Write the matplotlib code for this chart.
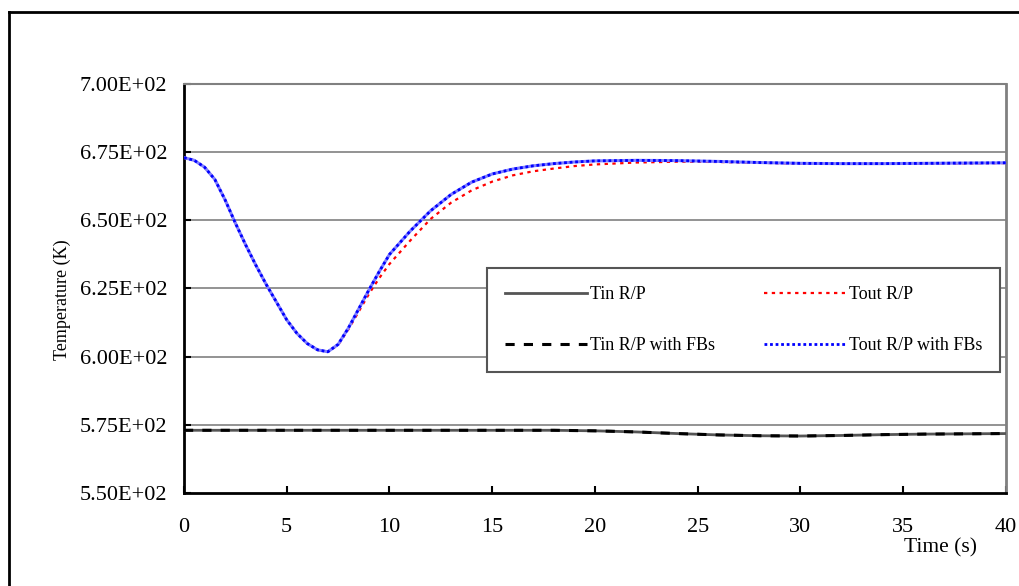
import matplotlib.pyplot as plt
from matplotlib.lines import Line2D

plt.rcParams['font.family'] = ['Liberation Serif', 'DejaVu Serif']

# time axis for the outlet temperatures (s)
t_out = [0, 0.5, 1, 1.5, 2, 2.5, 3, 3.5, 4, 4.5, 5, 5.5, 6, 6.5, 7, 7.5, 8,
         8.5, 9, 9.5, 10, 11, 12, 13, 14, 15, 16, 17, 18, 19, 20, 22, 24,
         26, 28, 30, 32, 34, 36, 38, 40]
tout_rp = [673.0, 672.0, 669.5, 665.0, 657.5, 649.0, 641.0, 633.5, 626.5,
           620.0, 613.5, 608.5, 604.8, 602.5, 601.8, 604.3, 610.0, 616.5,
           623.0, 628.8, 634.0, 642.5, 650.5, 656.5, 661.0, 664.2, 666.5,
           668.0, 669.0, 669.9, 670.5, 671.2, 671.5, 671.4, 671.1, 670.8,
           670.7, 670.7, 670.8, 670.9, 671.0]
tout_fb = [673.0, 672.0, 669.5, 665.0, 657.5, 649.0, 641.0, 633.5, 626.5,
           620.0, 613.5, 608.5, 604.8, 602.5, 601.8, 604.5, 610.5, 617.5,
           624.5, 631.2, 637.5, 646.0, 653.5, 659.5, 664.0, 667.0, 668.8,
           670.0, 670.8, 671.4, 671.8, 672.0, 671.9, 671.6, 671.2, 670.9,
           670.8, 670.8, 670.9, 671.0, 671.1]

# inlet temperatures
t_in = [0, 5, 10, 15, 18, 20, 22, 24, 26, 28, 30, 32, 34, 36, 38, 40]
tin_rp = [573.0, 573.0, 573.0, 573.0, 573.0, 572.8, 572.4, 571.8, 571.3,
          571.0, 570.9, 571.1, 571.4, 571.6, 571.7, 571.8]
tin_fb = [573.0, 573.0, 573.0, 573.0, 573.0, 572.8, 572.4, 571.8, 571.3,
          571.0, 570.9, 571.1, 571.4, 571.6, 571.7, 571.8]

y_ticks = [550, 575, 600, 625, 650, 675, 700]
x_ticks = [0, 5, 10, 15, 20, 25, 30, 35, 40]

fig = plt.figure(figsize=(10.2, 5.86), dpi=100)
ax = fig.add_axes([184 / 1020, 1 - 493 / 586, 822 / 1020, 409 / 586])

for yv in y_ticks[1:]:
    ax.axhline(yv, color='#808080', lw=1.2, zorder=1)

l1, = ax.plot(t_in, tin_rp, color='#555555', lw=2, label='Tin R/P', zorder=3)
l2, = ax.plot(t_out, tout_rp, color='red', lw=1.6, ls=(0, (1.5, 2)),
              label='Tout R/P', zorder=3)
l3, = ax.plot(t_in, tin_fb, color='black', lw=2.2, ls=(0, (3, 3)),
              label='Tin R/P with FBs', zorder=4)
ax.plot(t_out, tout_fb, color='#8080ff', lw=2.2, zorder=4)
l4, = ax.plot(t_out, tout_fb, color='blue', lw=2.0, ls=(0, (1, 1)),
              label='Tout R/P with FBs', zorder=5)

ax.set_xlim(0, 40)
ax.set_ylim(550, 700)
ax.set_xticks(x_ticks)
ax.set_yticks(y_ticks)
ax.set_yticklabels(['%.2fE+02' % (v / 100) for v in y_ticks])
ax.tick_params(direction='in', length=5, width=1.5, labelsize=16)
ax.tick_params(axis='y', pad=12)
ax.tick_params(axis='x', pad=18)

ax.spines['left'].set_linewidth(2)
ax.spines['bottom'].set_linewidth(2)
ax.spines['top'].set_color('#808080')
ax.spines['right'].set_color('#808080')
ax.spines['top'].set_linewidth(1.5)
ax.spines['right'].set_linewidth(2)

fig.text(62 / 1020, 1 - 300 / 586, 'Temperature (K)', fontsize=13,
         rotation=90, ha='center', va='center')
fig.text(941 / 1020, 1 - 548 / 586, 'Time (s)', fontsize=15.5,
         ha='center', va='center')

leg = ax.legend([l1, l3, l2, l4],
                ['Tin R/P', 'Tin R/P with FBs', 'Tout R/P', 'Tout R/P with FBs'],
                loc='upper left', bbox_to_anchor=(0.369, 0.296, 0.624, 0.254),
                mode='expand', ncol=2, fontsize=13, frameon=True,
                fancybox=False, edgecolor='#555555', framealpha=1,
                handlelength=4.5, handletextpad=0.2, labelspacing=1.9,
                borderpad=1.0, borderaxespad=0)
leg.get_frame().set_linewidth(1.5)
leg.set_zorder(10)

# outer chart frame
fig.add_artist(Line2D([9 / 1020, 9 / 1020], [0, 1 - 12 / 586],
                      transform=fig.transFigure, color='black', lw=2))
fig.add_artist(Line2D([9 / 1020, 1], [1 - 12 / 586, 1 - 12 / 586],
                      transform=fig.transFigure, color='black', lw=2))

fig.savefig('out.png', dpi=100)
